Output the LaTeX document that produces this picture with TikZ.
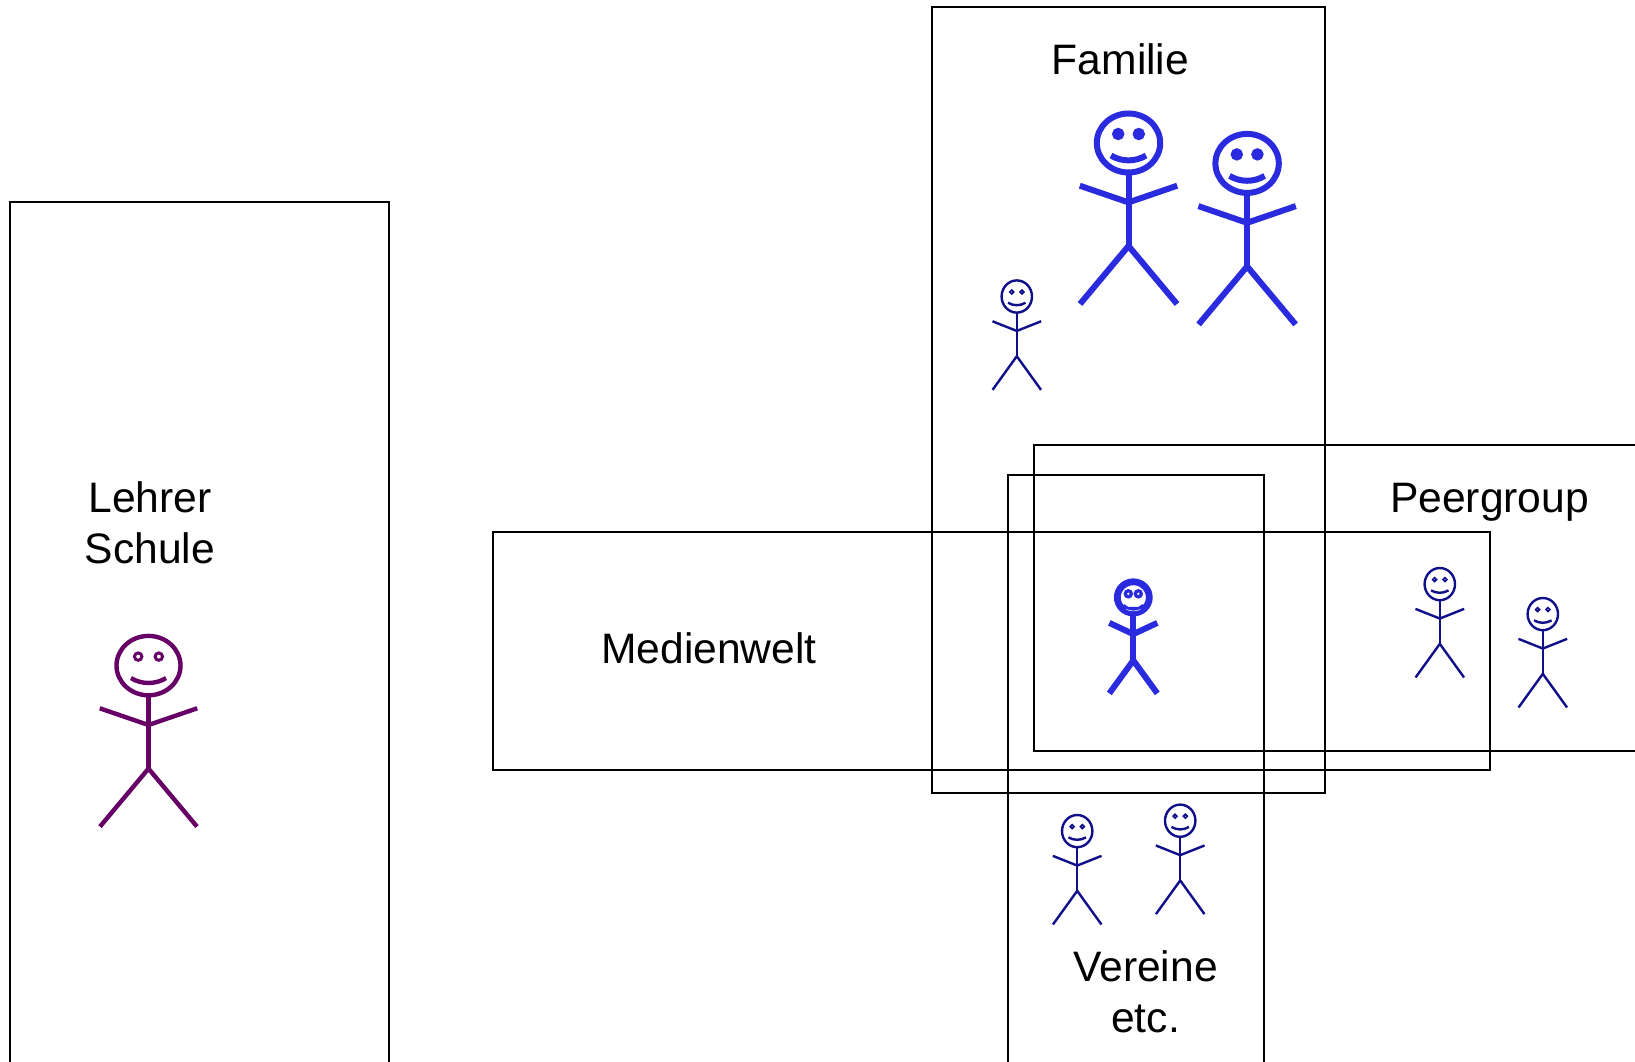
\documentclass[tikz,border=0pt]{standalone}
\usepackage{fontspec}
\setmainfont{Liberation Sans}
\definecolor{bigblue}{HTML}{2A2ADF}
\definecolor{navyb}{HTML}{10108A}
\definecolor{purp}{HTML}{660066}
\tikzset{
  frame/.style={draw=black,line width=2pt},
  lab/.style={font=\fontsize{42.6}{51}\selectfont,align=center,inner sep=0pt,text=black},
}
% figure parameters: body x/y scale, head radii, line width, eye radius, eye line width, eye fill, colour
\newcommand{\bigfig}{\def\fsx{1}\def\fsy{1}\def\frx{31.7}\def\fry{29.5}\def\fhs{1}\def\flw{6}\def\fer{5.4}\def\fel{1.6}\def\fcol{bigblue}\def\fef{bigblue}}
\newcommand{\purfig}{\def\fsx{1}\def\fsy{1}\def\frx{32}\def\fry{29.7}\def\fhs{1}\def\flw{4.4}\def\fer{3.7}\def\fel{3}\def\fcol{purp}\def\fef{white}}
\newcommand{\smallfig}{\def\fsx{.5}\def\fsy{.58}\def\frx{15.2}\def\fry{16.1}\def\fhs{.5}\def\flw{2.4}\def\fer{1.9}\def\fel{1.7}\def\fcol{navyb}\def\fef{white}}
\newcommand{\stickman}[3]{%
  \begin{scope}[shift={(#1,#2)}]
    #3
    \begin{scope}[draw=\fcol,line width=\flw pt,line join=miter]
    \draw (0,0) ellipse [x radius=\frx, y radius=\fry];
    \draw ({-48.7*\fsx},{42.7*\fsy}) -- (0,{59.4*\fsy}) -- ({48.7*\fsx},{42.7*\fsy});
    \draw (0,\fry) -- (0,{103*\fsy});
    \draw ({-48.5*\fsx},{161*\fsy}) -- (0,{103*\fsy}) -- ({48.5*\fsx},{161*\fsy});
    \draw ({-17.5*\fhs},{12.5*\fhs}) .. controls ({-7*\fhs},{19*\fhs}) and ({7*\fhs},{19*\fhs}) .. ({17.5*\fhs},{12.5*\fhs});
    \draw[line width=\fel pt,fill=\fef] ({-10.3*\fhs},{-9*\fhs}) circle (\fer);
    \draw[line width=\fel pt,fill=\fef] ({10.3*\fhs},{-9*\fhs}) circle (\fer);
    \end{scope}
  \end{scope}}
\begin{document}
\begin{tikzpicture}[x=1pt,y=-1pt]
\useasboundingbox (0,0) rectangle (1635,1062);
\clip (0,0) rectangle (1635,1062);
\fill[white] (0,0) rectangle (1635,1062);
% frames
\draw[frame] (9.5,202.3) rectangle (389,1100);
\draw[frame] (931.7,7.5) rectangle (1324.7,793);
\draw[frame] (1033.7,445.3) rectangle (1700,751);
\draw[frame] (1008.3,475.3) rectangle (1264,1100);
\draw[frame] (493.2,531.5) rectangle (1490,770.3);
% labels
\node[lab] (familie) at (1120.5,59.5) {Familie};
\node[lab] (lehrer) at (150,523) {Lehrer\\Schule};
\node[lab] (medien) at (709,648.5) {Medienwelt};
\node[lab] (peer) at (1489.5,502.5) {Peergroup};
\node[lab] (vereine) at (1145.5,992) {Vereine\\etc.};
% figures
\stickman{1128.5}{143}{\bigfig}
\stickman{1247.1}{163.4}{\bigfig}
\stickman{148.5}{665.6}{\purfig}
\stickman{1016.8}{296.5}{\smallfig}
\stickman{1439.8}{584.1}{\smallfig}
\stickman{1542.8}{614.1}{\smallfig}
\stickman{1077.2}{831.1}{\smallfig}
\stickman{1180.2}{820.7}{\smallfig}
% central figure
\begin{scope}[shift={(1133.3,597.4)},draw=bigblue,line width=6pt]
  \draw[line width=6.8pt] (0,0) ellipse [x radius=16, y radius=15.6];
  \draw (-24,25.5) -- (0,36.7) -- (24,25.5);
  \draw (0,16) -- (0,63);
  \draw (-24,96) -- (0,63) -- (24,96);
  \fill[bigblue] (-9.5,6.5) -- (-5,9.5) -- (5,9.5) -- (9.5,6.5) -- (10,15) -- (-10,15) -- cycle;
  \draw[white,line width=.5pt] (-7,12) .. controls (-3,14) and (3,14) .. (7,12);
  \fill[bigblue] (-5,-3.6) circle (4.8);
  \fill[bigblue] (5,-3.6) circle (4.8);
  \fill[white] (-5,-3.6) circle (1.3);
  \fill[white] (5,-3.6) circle (1.3);
\end{scope}
\end{tikzpicture}
\end{document}
